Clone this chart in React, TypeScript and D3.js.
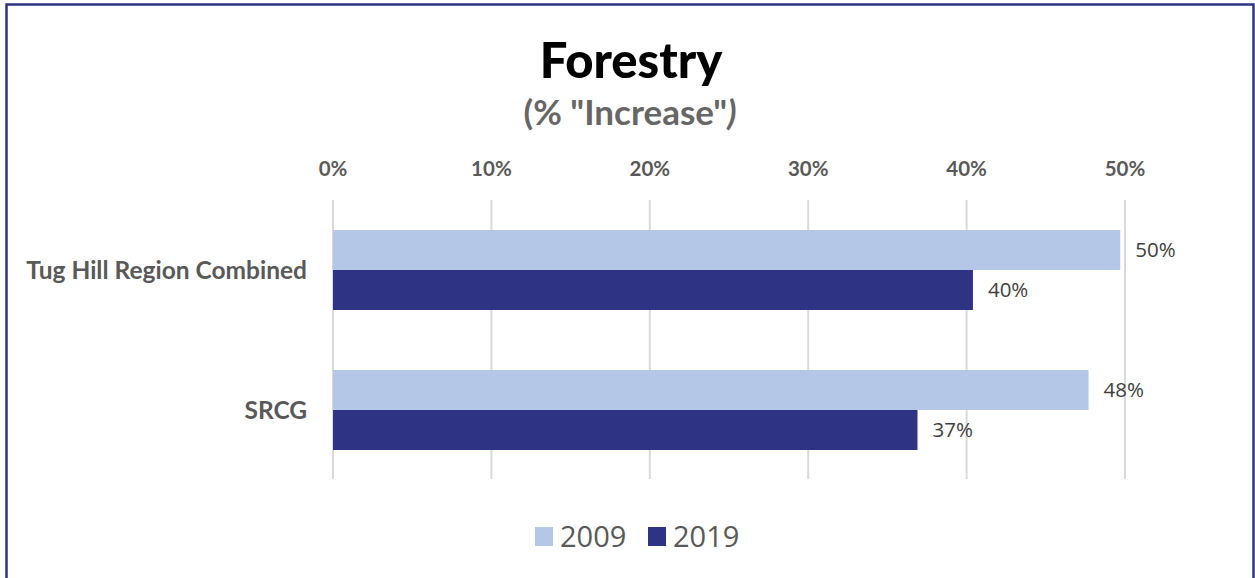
import React from "react";
import * as d3 from "d3";

const categories = ["Tug Hill Region Combined", "SRCG"];
const series = ["2009", "2019"];
const values2009 = [49.7, 47.7];
const values2019 = [40.4, 36.9];
const valueLabels2009 = ["50%", "48%"];
const valueLabels2019 = ["40%", "37%"];
const tickValues = [0, 10, 20, 30, 40, 50];
const colors = ["#B4C7E7", "#2E3384"];

const W = 1255;
const H = 578;

export default function App() {
  const x = d3.scaleLinear().domain([0, 50]).range([333, 1125]);
  const y = d3
    .scaleBand<string>()
    .domain(categories)
    .range([200, 480])
    .paddingInner(0.4286)
    .paddingOuter(0.2143);
  const inner = d3.scaleBand<string>().domain(series).range([0, y.bandwidth()]);
  const data = [values2009, values2019];
  const labels = [valueLabels2009, valueLabels2019];
  const calibri = "Lato, 'Open Sans', sans-serif";
  const segoe = "'Open Sans', 'Noto Sans', sans-serif";

  return (
    <svg
      width={W}
      height={H}
      style={{ position: "absolute", left: 0, top: 0, background: "#fff" }}
    >
      <rect x={6.5} y={4.5} width={1247} height={590} fill="#fff" stroke="#2E3384" strokeWidth={2.5} />
      <text x={631} y={78} textAnchor="middle" fontFamily={calibri} fontWeight={900} fontSize={49} fill="#000">
        Forestry
      </text>
      <text x={630} y={125} textAnchor="middle" fontFamily={calibri} fontWeight={700} fontSize={35} fill="#666">
        (% "Increase"<tspan fontStyle="italic">)</tspan>
      </text>
      {tickValues.map((t) => (
        <g key={t}>
          <line x1={x(t)} x2={x(t)} y1={200} y2={479} stroke="#D9D9D9" strokeWidth={2} />
          <text x={x(t)} y={176} textAnchor="middle" fontFamily={calibri} fontWeight={700} fontSize={20.5} fill="#595959">
            {t}%
          </text>
        </g>
      ))}
      {categories.map((c, i) => (
        <g key={c}>
          <text
            x={307}
            y={(y(c) as number) + y.bandwidth() / 2}
            dy="0.35em"
            textAnchor="end"
            fontFamily={calibri}
            fontWeight={700}
            fontSize={24.5}
            fill="#595959"
          >
            {c}
          </text>
          {series.map((s, j) => {
            const by = (y(c) as number) + (inner(s) as number);
            return (
              <g key={s}>
                <rect x={x(0)} y={by} width={x(data[j][i]) - x(0)} height={inner.bandwidth()} fill={colors[j]} />
                <text
                  x={x(data[j][i]) + 15}
                  y={by + inner.bandwidth() / 2}
                  dy="0.35em"
                  fontFamily={segoe}
                  fontSize={20.5}
                  fill="#404040"
                >
                  {labels[j][i]}
                </text>
              </g>
            );
          })}
        </g>
      ))}
      {series.map((s, j) => (
        <g key={s} transform={`translate(${535 + j * 113},0)`}>
          <rect x={0} y={527} width={18} height={19} fill={colors[j]} />
          <text x={25} y={537} dy="0.35em" fontFamily={segoe} fontSize={29} fill="#595959">
            {s}
          </text>
        </g>
      ))}
    </svg>
  );
}
